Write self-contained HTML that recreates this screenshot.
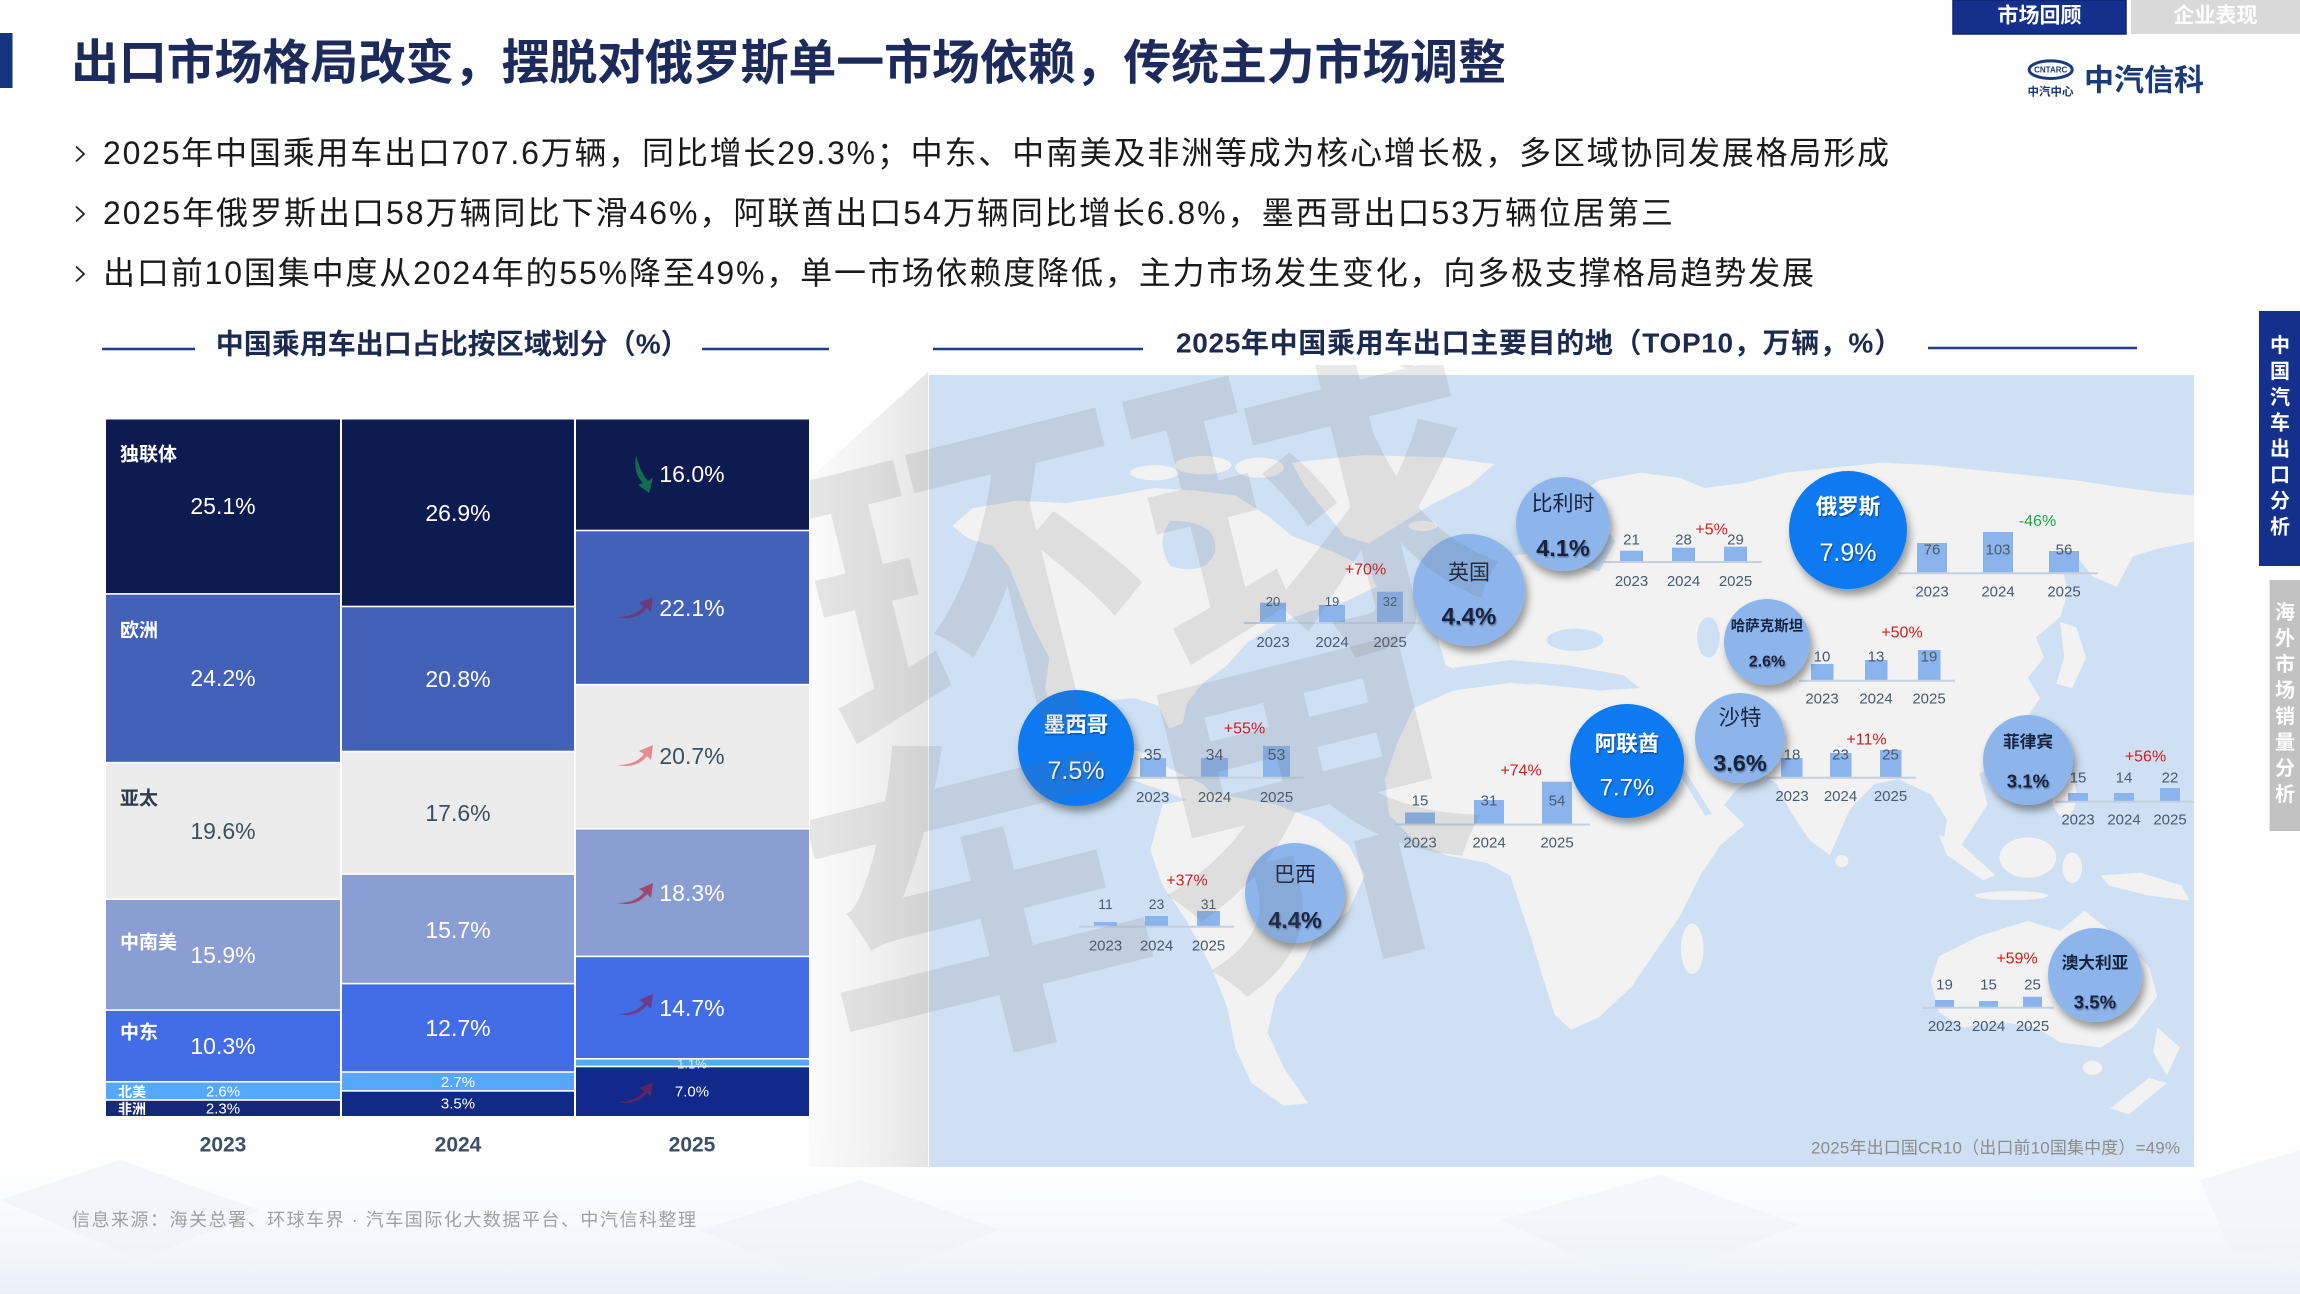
<!DOCTYPE html>
<html><head><meta charset="utf-8">
<style>
html,body{margin:0;padding:0;background:#fff;width:2300px;height:1294px;overflow:hidden}
svg{display:block}
text{font-family:"Liberation Sans","Noto Sans CJK SC",sans-serif}
</style></head>
<body>
<svg width="2300" height="1294" viewBox="0 0 2300 1294" xmlns="http://www.w3.org/2000/svg">
<defs>
  <filter id="sh" x="-40%" y="-40%" width="190%" height="190%">
    <feDropShadow dx="3" dy="6" stdDeviation="4" flood-color="#000" flood-opacity="0.38"/>
  </filter>
  <filter id="ts" x="-20%" y="-20%" width="140%" height="160%">
    <feDropShadow dx="1" dy="1.5" stdDeviation="0.8" flood-color="#000" flood-opacity="0.35"/>
  </filter>
  <clipPath id="mapclip"><rect x="929" y="375" width="1265" height="792"/></clipPath>
  <clipPath id="wmclip"><rect x="810" y="365" width="1384" height="802"/></clipPath>
  <linearGradient id="bandg" x1="0" y1="0" x2="1" y2="0">
    <stop offset="0" stop-color="#e6e6e6" stop-opacity="0.15"/>
    <stop offset="1" stop-color="#dcdcdc" stop-opacity="0.75"/>
  </linearGradient>
  <linearGradient id="botg" x1="0" y1="0" x2="0" y2="1">
    <stop offset="0" stop-color="#ffffff" stop-opacity="0"/>
    <stop offset="1" stop-color="#e9eff8" stop-opacity="1"/>
  </linearGradient>
</defs>

<!-- background -->
<rect x="0" y="0" width="2300" height="1294" fill="#ffffff"/>
<rect x="0" y="1120" width="2300" height="174" fill="url(#botg)"/>
<polygon points="0,1200 120,1160 260,1210 140,1260" fill="#eef2f9" opacity="0.6"/>
<polygon points="700,1230 860,1180 1000,1230 840,1290" fill="#eef2f9" opacity="0.6"/>
<polygon points="1500,1220 1660,1175 1800,1225 1640,1285" fill="#eef2f9" opacity="0.5"/>
<polygon points="2200,1180 2300,1150 2300,1260 2230,1250" fill="#eef2f9" opacity="0.6"/>

<!-- header -->
<rect x="0" y="33" width="12.5" height="55" fill="#12357e"/>
<text x="71" y="63.5" font-size="48" font-weight="bold" fill="#1d2b5c" dominant-baseline="central" textLength="1435" lengthAdjust="spacing">出口市场格局改变，摆脱对俄罗斯单一市场依赖，传统主力市场调整</text>

<g fill="none" stroke="#222" stroke-width="1.8">
  <polyline points="76,146.5 84,154 76,161.5"/>
  <polyline points="76,206.5 84,214 76,221.5"/>
  <polyline points="76,266.5 84,274 76,281.5"/>
</g>
<g font-size="32" fill="#1a1a1a" dominant-baseline="central">
  <text x="103" y="153" textLength="1786" lengthAdjust="spacing">2025年中国乘用车出口707.6万辆，同比增长29.3%；中东、中南美及非洲等成为核心增长极，多区域协同发展格局形成</text>
  <text x="103" y="213" textLength="1570" lengthAdjust="spacing">2025年俄罗斯出口58万辆同比下滑46%，阿联酋出口54万辆同比增长6.8%，墨西哥出口53万辆位居第三</text>
  <text x="103" y="273" textLength="1711" lengthAdjust="spacing">出口前10国集中度从2024年的55%降至49%，单一市场依赖度降低，主力市场发生变化，向多极支撑格局趋势发展</text>
</g>

<!-- tabs -->
<rect x="1953" y="0" width="173" height="34" fill="#15308c" stroke="#0d2470" stroke-width="1.5"/>
<text x="2039.5" y="16" font-size="21" font-weight="bold" fill="#fff" text-anchor="middle" dominant-baseline="central">市场回顾</text>
<rect x="2131" y="0" width="169" height="34" fill="#d9d9d9"/>
<text x="2215.5" y="16" font-size="21" font-weight="bold" fill="#fff" text-anchor="middle" dominant-baseline="central">企业表现</text>

<!-- logo -->
<ellipse cx="2050.7" cy="69.7" rx="21.5" ry="8.8" fill="none" stroke="#1b3a7a" stroke-width="3"/>
<text x="2050.7" y="70" font-size="8" font-weight="bold" fill="#1b3a7a" text-anchor="middle" dominant-baseline="central">CNTARC</text>
<text x="2050.5" y="92.7" font-size="11.5" font-weight="bold" fill="#1b3a7a" text-anchor="middle" dominant-baseline="central">中汽中心</text>
<text x="2084" y="81" font-size="30" font-weight="bold" fill="#1b3a7a" dominant-baseline="central" textLength="120" lengthAdjust="spacing">中汽信科</text>

<!-- left chart title -->
<line x1="102" y1="349" x2="195" y2="349" stroke="#1e3c8c" stroke-width="2.5"/>
<line x1="702" y1="349" x2="829" y2="349" stroke="#1e3c8c" stroke-width="2.5"/>
<text x="215.7" y="344" font-size="28" font-weight="bold" fill="#1b2a4e" dominant-baseline="central" textLength="473" lengthAdjust="spacing">中国乘用车出口占比按区域划分（%）</text>

<!-- stacked bars 2023 -->
<g>
  <rect x="106" y="419.5" width="234" height="173.6" fill="#0d1b50"/>
  <rect x="106" y="594.7" width="234" height="167.1" fill="#4361b8"/>
  <rect x="106" y="763.4" width="234" height="135.0" fill="#ececec"/>
  <rect x="106" y="900.0" width="234" height="109.3" fill="#8b9ed4"/>
  <rect x="106" y="1010.9" width="234" height="70.1" fill="#436de7"/>
  <rect x="106" y="1082.6" width="234" height="16.6" fill="#55a8fd"/>
  <rect x="106" y="1100.8" width="234" height="15.2" fill="#15297a"/>
</g>
<!-- 2024 -->
<g>
  <rect x="342" y="419.5" width="232" height="186.2" fill="#0d1b50"/>
  <rect x="342" y="607.3" width="232" height="143.4" fill="#4361b8"/>
  <rect x="342" y="752.3" width="232" height="121.0" fill="#ececec"/>
  <rect x="342" y="874.9" width="232" height="107.9" fill="#8b9ed4"/>
  <rect x="342" y="984.4" width="232" height="86.8" fill="#436de7"/>
  <rect x="342" y="1072.8" width="232" height="17.3" fill="#55a8fd"/>
  <rect x="342" y="1091.7" width="232" height="24.3" fill="#112a85"/>
</g>
<!-- 2025 -->
<g>
  <rect x="576" y="419.5" width="233" height="110.2" fill="#0d1b50"/>
  <rect x="576" y="531.3" width="233" height="152.5" fill="#4361b8"/>
  <rect x="576" y="685.4" width="233" height="142.6" fill="#ececec"/>
  <rect x="576" y="829.6" width="233" height="126.0" fill="#8b9ed4"/>
  <rect x="576" y="957.2" width="233" height="100.8" fill="#436de7"/>
  <rect x="576" y="1059.6" width="233" height="6.1" fill="#55a8fd"/>
  <rect x="576" y="1067.3" width="233" height="48.7" fill="#10298a"/>
</g>

<!-- region labels -->
<g font-size="19" font-weight="bold" fill="#fff" dominant-baseline="central">
  <text x="120" y="455">独联体</text>
  <text x="120" y="631">欧洲</text>
  <text x="120" y="799" fill="#2d3b4d">亚太</text>
  <text x="120" y="943">中南美</text>
  <text x="120" y="1033">中东</text>
  <text x="118" y="1092" font-size="14">北美</text>
  <text x="118" y="1109" font-size="14">非洲</text>
</g>
<!-- values -->
<g font-size="23" fill="#fff" text-anchor="middle" dominant-baseline="central">
  <text x="223" y="506">25.1%</text>
  <text x="223" y="678">24.2%</text>
  <text x="223" y="831" fill="#3c4f62">19.6%</text>
  <text x="223" y="955">15.9%</text>
  <text x="223" y="1046">10.3%</text>
  <text x="223" y="1092" font-size="15">2.6%</text>
  <text x="223" y="1109" font-size="15">2.3%</text>

  <text x="458" y="513">26.9%</text>
  <text x="458" y="679">20.8%</text>
  <text x="458" y="813" fill="#3c4f62">17.6%</text>
  <text x="458" y="930">15.7%</text>
  <text x="458" y="1028">12.7%</text>
  <text x="458" y="1082.5" font-size="15">2.7%</text>
  <text x="458" y="1104" font-size="15">3.5%</text>

  <text x="692" y="474">16.0%</text>
  <text x="692" y="608">22.1%</text>
  <text x="692" y="756" fill="#3c4f62">20.7%</text>
  <text x="692" y="893">18.3%</text>
  <text x="692" y="1008">14.7%</text>
  <text x="692" y="1064" font-size="13" fill="#dde6ff">1.1%</text>
  <text x="692" y="1092" font-size="15">7.0%</text>
</g>
<!-- arrows -->
<path d="M636,455 Q633,474 643,483 L638,485 L649,493 L653,478 L648,481 Q640,472 636,455 Z" fill="#0e6e4e"/>
<path d="M617,617 Q636,617 644,606 L639,603 L653,597 L651,612 L647,608 Q637,621 617,617 Z" fill="#6b3a7d"/>
<path d="M617,765 Q636,765 644,754 L639,751 L653,745 L651,760 L647,756 Q637,769 617,765 Z" fill="#e58a8f"/>
<path d="M617,903 Q636,903 644,892 L639,889 L653,883 L651,898 L647,894 Q637,907 617,903 Z" fill="#9c4a6e"/>
<path d="M617,1014 Q636,1014 644,1003 L639,1000 L653,994 L651,1009 L647,1005 Q637,1018 617,1014 Z" fill="#6a3c8c"/>
<path d="M617,1102 Q636,1102 644,1091 L639,1088 L653,1082 L651,1097 L647,1093 Q637,1106 617,1102 Z" fill="#5b2464"/>

<!-- years -->
<g font-size="21" font-weight="bold" fill="#3b5068" text-anchor="middle" dominant-baseline="central">
  <text x="223" y="1145">2023</text>
  <text x="458" y="1145">2024</text>
  <text x="692" y="1145">2025</text>
</g>

<!-- source -->
<text x="72" y="1220" font-size="18" fill="#a0a0a0" dominant-baseline="central" textLength="624" lengthAdjust="spacing">信息来源：海关总署、环球车界 · 汽车国际化大数据平台、中汽信科整理</text>

<!-- band -->
<polygon points="810,478 928,372 928,1167 810,1167" fill="url(#bandg)"/>

<!-- right title -->
<line x1="933" y1="349" x2="1143" y2="349" stroke="#1e3c8c" stroke-width="2.5"/>
<line x1="1928" y1="348" x2="2137" y2="348" stroke="#1e3c8c" stroke-width="2.5"/>
<text x="1176" y="343" font-size="28" font-weight="bold" fill="#1b2a4e" dominant-baseline="central" textLength="726" lengthAdjust="spacing">2025年中国乘用车出口主要目的地（TOP10，万辆，%）</text>

<!-- map panel -->
<rect x="929" y="375" width="1265" height="792" fill="#cfe0f4"/>
<g clip-path="url(#mapclip)">
 <g transform="translate(928,374) scale(0.8087,0.5064)">
  <g fill="#f2f2f2">
   <path d="M30,300 L55,265 L110,250 L170,255 L230,240 L280,225 L330,230 L380,240 L420,280 L450,320 L500,350 L545,385 L555,420 L515,450 L470,470 L430,495 L395,530 L370,575 L340,610 L320,650 L315,690 L298,700 L285,655 L255,640 L220,645 L210,690 L230,730 L270,750 L300,780 L340,810 L360,845 L330,848 L295,825 L250,800 L205,770 L175,730 L155,680 L145,620 L150,560 L130,500 L115,440 L100,380 L80,340 L50,325 Z"/>
   <ellipse cx="280" cy="195" rx="30" ry="15"/>
   <ellipse cx="340" cy="180" rx="35" ry="18"/>
   <ellipse cx="410" cy="185" rx="30" ry="20"/>
   <path d="M450,175 L540,160 L640,165 L700,178 L670,220 L620,260 L580,300 L545,335 L515,320 L490,270 L465,220 Z"/>
   <ellipse cx="612" cy="300" rx="18" ry="10"/>
   <path d="M290,850 L360,830 L430,850 L480,880 L520,930 L540,990 L520,1060 L480,1110 L460,1170 L430,1230 L420,1300 L440,1370 L470,1440 L440,1445 L400,1400 L380,1330 L370,1250 L350,1170 L320,1080 L290,1010 L275,940 Z"/>
   <path d="M640,575 L630,520 L650,480 L690,470 L700,430 L670,410 L690,380 L720,360 L760,350 L770,300 L790,250 L830,210 L880,195 L930,205 L960,225 L1010,215 L1060,195 L1120,185 L1180,175 L1240,180 L1300,190 L1360,200 L1420,210 L1480,225 L1530,235 L1568,240 L1568,330 L1520,345 L1490,360 L1470,420 L1440,400 L1420,360 L1400,370 L1410,430 L1400,480 L1370,520 L1380,560 L1360,600 L1375,640 L1350,700 L1330,760 L1300,790 L1310,850 L1290,900 L1270,950 L1255,930 L1260,880 L1240,830 L1200,800 L1170,810 L1140,860 L1115,950 L1090,920 L1065,860 L1050,810 L1030,790 L1000,820 L980,860 L950,890 L920,860 L905,800 L890,740 L870,690 L860,650 L820,640 L780,625 L740,610 L700,600 L660,590 Z"/>
   <ellipse cx="665" cy="380" rx="18" ry="40"/>
   <ellipse cx="638" cy="392" rx="10" ry="18"/>
   <path d="M1400,490 L1420,500 L1432,560 L1415,620 L1395,612 L1405,560 Z"/>
   <ellipse cx="1130" cy="962" rx="8" ry="12"/>
   <ellipse cx="1365" cy="745" rx="6" ry="14"/>
   <ellipse cx="1405" cy="830" rx="15" ry="45"/>
   <path d="M600,660 L650,625 L720,610 L790,620 L860,640 L890,660 L920,730 L955,800 L990,860 L1010,890 L980,930 L955,990 L930,1070 L900,1140 L870,1210 L830,1270 L795,1295 L775,1265 L760,1190 L745,1110 L730,1040 L720,990 L690,965 L640,950 L600,920 L570,870 L565,800 L580,730 Z"/>
   <ellipse cx="945" cy="1135" rx="14" ry="50"/>
   <path d="M1250,910 L1275,925 L1320,990 L1305,1000 L1260,950 Z"/>
   <ellipse cx="1360" cy="955" rx="35" ry="40"/>
   <ellipse cx="1340" cy="1030" rx="45" ry="9"/>
   <ellipse cx="1415" cy="975" rx="12" ry="30"/>
   <path d="M1450,990 L1500,985 L1550,1010 L1560,1040 L1510,1030 L1460,1010 Z"/>
   <path d="M1250,1150 L1300,1110 L1360,1080 L1400,1100 L1430,1060 L1470,1110 L1510,1170 L1520,1230 L1490,1290 L1450,1330 L1400,1320 L1370,1290 L1330,1280 L1280,1290 L1250,1260 L1240,1200 Z"/>
   <ellipse cx="1440" cy="1370" rx="12" ry="14"/>
   <path d="M1520,1290 L1548,1330 L1532,1385 L1515,1340 Z"/>
   <path d="M1510,1390 L1532,1400 L1485,1462 L1462,1450 Z"/>
  </g>
  <g fill="#cfe0f4">
   <path d="M300,290 Q360,290 355,350 Q345,400 300,380 Q280,330 300,290 Z"/>
   <path d="M800,300 L830,290 L850,330 L830,390 L805,380 Z"/>
   <ellipse cx="800" cy="525" rx="35" ry="22"/>
   <ellipse cx="965" cy="520" rx="14" ry="40"/>
   <path d="M650,580 L720,565 L790,575 L860,595 L880,620 L830,625 L770,615 L710,605 L660,600 Z"/>
  </g>
  <path d="M875,670 L930,780 L965,870" fill="none" stroke="#cfe0f4" stroke-width="9"/>
 </g>
</g>

<!-- mini charts -->
<g fill="#8cb4ec">
  <rect x="1260" y="602.7" width="26" height="20.3"/><rect x="1319" y="605" width="26" height="18"/><rect x="1377" y="591.7" width="26" height="31.3"/>
  <rect x="1620" y="550.7" width="23" height="11.3"/><rect x="1672" y="547.7" width="23" height="14.3"/><rect x="1724" y="546.7" width="23" height="15.3"/>
  <rect x="1917" y="543" width="30" height="30.3"/><rect x="1983" y="532" width="30" height="41.3"/><rect x="2049" y="551" width="30" height="22.3"/>
  <rect x="1811" y="664" width="22.5" height="16.7"/><rect x="1865" y="660" width="22.5" height="20.7"/><rect x="1918" y="650" width="22.5" height="30.7"/>
  <rect x="1781" y="758" width="21.5" height="19.7"/><rect x="1830" y="753" width="21.5" height="24.7"/><rect x="1880" y="750" width="21.5" height="27.7"/>
  <rect x="2068" y="793" width="20" height="8.7"/><rect x="2114" y="793" width="20" height="8.7"/><rect x="2160" y="788" width="20" height="13.7"/>
  <rect x="1140" y="758" width="26" height="19.7"/><rect x="1201" y="758" width="27" height="19.7"/><rect x="1263" y="746" width="27" height="31.7"/>
  <rect x="1405" y="812.5" width="30" height="12"/><rect x="1474" y="800" width="30" height="24.5"/><rect x="1542" y="781.7" width="30" height="42.8"/>
  <rect x="1094" y="922" width="23" height="4.7"/><rect x="1145" y="916" width="23" height="10.7"/><rect x="1197" y="911" width="23" height="15.7"/>
  <rect x="1935" y="1000" width="19" height="7.7"/><rect x="1979" y="1001" width="19" height="6.7"/><rect x="2023" y="996.7" width="19" height="11"/>
</g>
<g stroke="#c3d0e0" stroke-width="2">
  <line x1="1244" y1="623" x2="1420" y2="623"/>
  <line x1="1604" y1="562" x2="1762" y2="562"/>
  <line x1="1898" y1="573.3" x2="2098" y2="573.3"/>
  <line x1="1799" y1="680.7" x2="1955" y2="680.7"/>
  <line x1="1767" y1="777.7" x2="1916" y2="777.7"/>
  <line x1="2055" y1="801.7" x2="2194" y2="801.7"/>
  <line x1="1121" y1="777.7" x2="1304" y2="777.7"/>
  <line x1="1395" y1="824.5" x2="1590" y2="824.5"/>
  <line x1="1079" y1="926.7" x2="1234" y2="926.7"/>
  <line x1="1922" y1="1007.7" x2="2054" y2="1007.7"/>
</g>
<g font-size="15" fill="#4a5a70" text-anchor="middle" dominant-baseline="central">
  <text x="1273" y="601.7" font-size="13">20</text><text x="1332" y="601.7" font-size="13">19</text><text x="1390" y="601.7" font-size="13">32</text>
  <text x="1273" y="642.7">2023</text><text x="1332" y="642.7">2024</text><text x="1390" y="642.7">2025</text>
  <text x="1631.5" y="540">21</text><text x="1683.5" y="540">28</text><text x="1735.5" y="540">29</text>
  <text x="1631.5" y="581.7">2023</text><text x="1683.5" y="581.7">2024</text><text x="1735.5" y="581.7">2025</text>
  <text x="1932" y="550">76</text><text x="1998" y="550">103</text><text x="2064" y="550">56</text>
  <text x="1932" y="592">2023</text><text x="1998" y="592">2024</text><text x="2064" y="592">2025</text>
  <text x="1822" y="657">10</text><text x="1876" y="657">13</text><text x="1929" y="657">19</text>
  <text x="1822" y="699">2023</text><text x="1876" y="699">2024</text><text x="1929" y="699">2025</text>
  <text x="1792" y="755">18</text><text x="1840.5" y="755">23</text><text x="1890.5" y="755">25</text>
  <text x="1792" y="796.7">2023</text><text x="1840.5" y="796.7">2024</text><text x="1890.5" y="796.7">2025</text>
  <text x="2078" y="778">15</text><text x="2124" y="778">14</text><text x="2170" y="778">22</text>
  <text x="2078" y="820">2023</text><text x="2124" y="820">2024</text><text x="2170" y="820">2025</text>
  <text x="1152.7" y="755.7" font-size="16">35</text><text x="1214.5" y="755.7" font-size="16">34</text><text x="1276.5" y="755.7" font-size="16">53</text>
  <text x="1152.7" y="797.7">2023</text><text x="1214.5" y="797.7">2024</text><text x="1276.5" y="797.7">2025</text>
  <text x="1420" y="801">15</text><text x="1489" y="801">31</text><text x="1557" y="801">54</text>
  <text x="1420" y="843">2023</text><text x="1489" y="843">2024</text><text x="1557" y="843">2025</text>
  <text x="1105.5" y="904" font-size="14">11</text><text x="1156.5" y="904" font-size="14">23</text><text x="1208.5" y="904" font-size="14">31</text>
  <text x="1105.5" y="946">2023</text><text x="1156.5" y="946">2024</text><text x="1208.5" y="946">2025</text>
  <text x="1944.5" y="985">19</text><text x="1988.5" y="985">15</text><text x="2032.5" y="985">25</text>
  <text x="1944.5" y="1026.7">2023</text><text x="1988.5" y="1026.7">2024</text><text x="2032.5" y="1026.7">2025</text>
</g>
<g font-size="16" fill="#d21c1c" text-anchor="middle" dominant-baseline="central">
  <text x="1365.5" y="570">+70%</text>
  <text x="1711.6" y="530">+5%</text>
  <text x="2037.5" y="521.7" fill="#1aa84a">-46%</text>
  <text x="1902" y="633">+50%</text>
  <text x="1866.5" y="740">+11%</text>
  <text x="2145.5" y="757">+56%</text>
  <text x="1244.5" y="729">+55%</text>
  <text x="1521" y="771">+74%</text>
  <text x="1187" y="881">+37%</text>
  <text x="2017" y="959">+59%</text>
</g>

<!-- bubbles -->
<g filter="url(#sh)">
  <circle cx="1076" cy="748" r="58" fill="#0b7af2"/>
  <circle cx="1469" cy="590" r="56" fill="#8db5ec"/>
  <circle cx="1563" cy="524" r="47" fill="#8db5ec"/>
  <circle cx="1848" cy="530" r="59" fill="#0b7af2"/>
  <circle cx="1767" cy="642" r="43" fill="#8db5ec"/>
  <circle cx="1627" cy="761" r="57" fill="#0b7af2"/>
  <circle cx="1740" cy="738" r="45" fill="#8db5ec"/>
  <circle cx="2028" cy="760" r="45" fill="#8db5ec"/>
  <circle cx="1295" cy="893" r="50" fill="#8db5ec"/>
  <circle cx="2095" cy="975" r="47" fill="#8db5ec"/>
</g>
<g text-anchor="middle" dominant-baseline="central" filter="url(#ts)">
  <text x="1076" y="725" font-size="21.5" font-weight="bold" fill="#fff">墨西哥</text>
  <text x="1076" y="771" font-size="25" fill="#fff">7.5%</text>
  <text x="1848" y="507" font-size="21.5" font-weight="bold" fill="#fff">俄罗斯</text>
  <text x="1848" y="553" font-size="25" fill="#fff">7.9%</text>
  <text x="1627" y="744" font-size="21.5" font-weight="bold" fill="#fff">阿联酋</text>
  <text x="1627" y="788" font-size="24" fill="#fff">7.7%</text>
</g>
<g text-anchor="middle" dominant-baseline="central" fill="#16233f">
  <text x="1469" y="573" font-size="21">英国</text>
  <text x="1469" y="617" font-size="24" font-weight="bold" filter="url(#ts)">4.4%</text>
  <text x="1563" y="504" font-size="21">比利时</text>
  <text x="1563" y="548" font-size="23.5" font-weight="bold" filter="url(#ts)">4.1%</text>
  <text x="1767" y="627" font-size="14.5" font-weight="bold">哈萨克斯坦</text>
  <text x="1767" y="662" font-size="16" font-weight="bold" filter="url(#ts)">2.6%</text>
  <text x="1740" y="718" font-size="21.5">沙特</text>
  <text x="1740" y="763" font-size="23.5" font-weight="bold" filter="url(#ts)">3.6%</text>
  <text x="2028" y="742" font-size="16.7" font-weight="bold">菲律宾</text>
  <text x="2028" y="781" font-size="18.6" font-weight="bold" filter="url(#ts)">3.1%</text>
  <text x="1295" y="875" font-size="21">巴西</text>
  <text x="1295" y="920" font-size="23.5" font-weight="bold" filter="url(#ts)">4.4%</text>
  <text x="2095" y="963" font-size="16.7" font-weight="bold">澳大利亚</text>
  <text x="2095" y="1002" font-size="18.6" font-weight="bold" filter="url(#ts)">3.5%</text>
</g>

<text x="1811" y="1148" font-size="17" fill="#8c8c8c" dominant-baseline="central" textLength="369" lengthAdjust="spacing">2025年出口国CR10（出口前10国集中度）=49%</text>

<!-- watermark -->
<g clip-path="url(#wmclip)">
  <g transform="rotate(-14 1150 690)" font-size="345" font-weight="bold" fill="rgb(110,110,110)" fill-opacity="0.15" text-anchor="middle">
    <text x="1180" y="677">环球</text>
    <text x="1105" y="978">车界</text>
  </g>
</g>

<!-- sidebar tabs -->
<rect x="2259" y="311" width="41" height="255" fill="#14308c"/>
<g font-size="20" font-weight="bold" fill="#fff" text-anchor="middle" dominant-baseline="central">
  <text x="2280" y="346">中</text><text x="2280" y="371.9">国</text><text x="2280" y="397.8">汽</text><text x="2280" y="423.7">车</text>
  <text x="2280" y="449.6">出</text><text x="2280" y="475.5">口</text><text x="2280" y="501.4">分</text><text x="2280" y="527.3">析</text>
</g>
<rect x="2269.6" y="580" width="30.4" height="251" fill="#c2c2c2"/>
<g font-size="20" font-weight="bold" fill="#fff" text-anchor="middle" dominant-baseline="central">
  <text x="2285" y="613">海</text><text x="2285" y="639">外</text><text x="2285" y="665">市</text><text x="2285" y="691">场</text>
  <text x="2285" y="717">销</text><text x="2285" y="743">量</text><text x="2285" y="769">分</text><text x="2285" y="795">析</text>
</g>
</svg>
</body></html>
